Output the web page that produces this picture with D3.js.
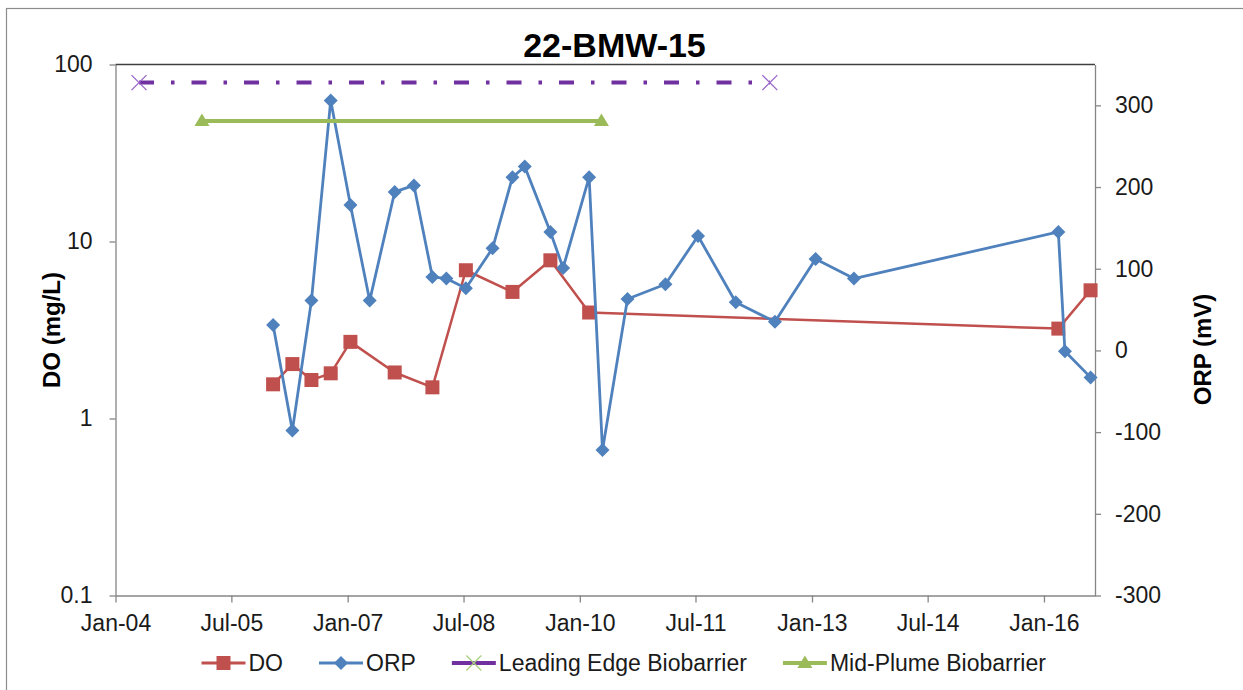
<!DOCTYPE html>
<html>
<head>
<meta charset="utf-8">
<script src="https://cdn.jsdelivr.net/npm/d3@7"></script>
<style>
  html, body { margin: 0; padding: 0; background: #fff; }
  svg { display: block; font-family: "Liberation Sans", Arial, sans-serif; }
</style>
</head>
<body>
<svg id="chart" width="1243" height="690"></svg>
<script>
// Monitoring well 22-BMW-15: dissolved oxygen (log, left axis) and ORP (right axis)
const sampleDates = [
  "2006-01-14", "2006-04-15", "2006-07-14", "2006-10-13", "2007-01-14", "2007-04-15",
  "2007-08-11", "2007-11-10", "2008-02-05", "2008-04-11", "2008-07-12", "2008-11-15",
  "2009-02-17", "2009-04-16", "2009-08-15", "2009-10-14", "2010-02-14", "2010-04-18",
  "2010-08-14", "2011-02-09", "2011-07-13", "2012-01-07", "2012-07-10", "2013-01-18",
  "2013-07-18", "2016-03-09", "2016-04-09", "2016-08-08"
];
const orpValues = [
  31, -98, 61, 306, 178, 61,
  194, 202, 90, 88, 76, 125,
  212, 225, 145, 101, 212, -122,
  63, 81, 140, 59, 35, 112,
  88, 145, -1, -33
];
const doValues = [
  1.56, 2.03, 1.65, 1.80, 2.71, null,
  1.82, null, 1.50, null, 6.88, null,
  5.19, null, 7.83, null, 3.97, null,
  null, null, null, null, null, null,
  null, 3.22, null, 5.30
];

// Operating periods of the two biobarriers
const leadingEdgeDates = ["2004-04-21", "2012-06-16"];
const leadingEdgeValues = [79, 79];
const midPlumeDates = ["2005-02-12", "2010-04-13"];
const midPlumeValues = [48, 48];

// Axes
const xDomain = ["2004-01-01", "2016-08-29"];
const xTickDates = ["2004-01-01", "2005-07-01", "2007-01-01", "2008-07-01", "2010-01-01",
                    "2011-07-01", "2013-01-01", "2014-07-01", "2016-01-01"];
const xTickLabels = ["Jan-04", "Jul-05", "Jan-07", "Jul-08", "Jan-10", "Jul-11", "Jan-13", "Jul-14", "Jan-16"];
const doDomain = [0.1, 100];
const doTicks = [0.1, 1, 10, 100];
const doTickLabels = ["0.1", "1", "10", "100"];
const orpDomain = [-300, 350];
const orpTicks = [-300, -200, -100, 0, 100, 200, 300];
const orpTickLabels = ["-300", "-200", "-100", "0", "100", "200", "300"];

const chartTitle = "22-BMW-15";
const leftTitle = "DO (mg/L)";
const rightTitle = "ORP (mV)";
const legendLabels = ["DO", "ORP", "Leading Edge Biobarrier", "Mid-Plume Biobarrier"];

const colors = {
  do: "#C0504D",
  orp: "#4F81BD",
  leading: "#7030A0",
  leadingMarker: "#9966CC",
  leadingLegendMarker: "#A9D17E",
  mid: "#9BBB59",
  axis: "#868686",
  text: "#1a1a1a"
};

const parse = d3.utcParse("%Y-%m-%d");
const plot = { left: 115.5, right: 1095, top: 64.5, bottom: 595.5 };

const svg = d3.select("#chart");

// chart area border
svg.append("rect")
  .attr("x", 6.5).attr("y", 8.5).attr("width", 1300).attr("height", 800)
  .attr("fill", "#fff").attr("stroke", "#8c8c8c").attr("stroke-width", 1.2);

const x = d3.scaleUtc().domain(xDomain.map(parse)).range([plot.left, plot.right]);
const yDO = d3.scaleLog().domain(doDomain).range([plot.bottom, plot.top]);
const yORP = d3.scaleLinear().domain(orpDomain).range([plot.bottom, plot.top]);

// plot area top edge
svg.append("line")
  .attr("x1", plot.left).attr("x2", plot.right)
  .attr("y1", plot.top).attr("y2", plot.top)
  .attr("stroke", "#404040").attr("stroke-width", 1.3);

function styleAxis(g) {
  g.select(".domain").attr("stroke", colors.axis).attr("stroke-width", 1.3);
  g.selectAll(".tick line").attr("stroke", colors.axis).attr("stroke-width", 1.3);
  g.selectAll(".tick text").attr("fill", colors.text).attr("font-size", 23)
    .attr("font-family", "'Liberation Sans', Arial, sans-serif");
}

svg.append("g")
  .attr("transform", `translate(${plot.left},0)`)
  .call(d3.axisLeft(yDO).tickValues(doTicks).tickFormat((d, i) => doTickLabels[i])
    .tickSize(6).tickSizeOuter(0).tickPadding(17))
  .call(styleAxis);

svg.append("g")
  .attr("transform", `translate(${plot.right},0)`)
  .call(d3.axisRight(yORP).tickValues(orpTicks).tickFormat((d, i) => orpTickLabels[i])
    .tickSize(6).tickSizeOuter(0).tickPadding(14))
  .call(styleAxis);

svg.append("g")
  .attr("transform", `translate(0,${plot.bottom})`)
  .call(d3.axisBottom(x).tickValues(xTickDates.map(parse)).tickFormat((d, i) => xTickLabels[i])
    .tickSize(7).tickSizeOuter(0).tickPadding(12))
  .call(styleAxis);

// titles
svg.append("text")
  .attr("x", 614.5).attr("y", 57)
  .attr("text-anchor", "middle")
  .attr("font-size", 34).attr("font-weight", "bold").attr("fill", "#000")
  .text(chartTitle);

svg.append("text")
  .attr("transform", `translate(60,${(plot.top + plot.bottom) / 2}) rotate(-90)`)
  .attr("text-anchor", "middle")
  .attr("font-size", 24).attr("font-weight", "bold").attr("fill", "#000")
  .text(leftTitle);

svg.append("text")
  .attr("transform", `translate(1211,349.5) rotate(-90)`)
  .attr("text-anchor", "middle")
  .attr("font-size", 24).attr("font-weight", "bold").attr("fill", "#000")
  .text(rightTitle);

// marker shapes
function square(g, cx, cy) {
  g.append("rect").attr("x", cx - 7).attr("y", cy - 7).attr("width", 14).attr("height", 14)
    .attr("fill", colors.do);
}
function diamond(g, cx, cy) {
  const r = 7;
  g.append("path").attr("d", `M${cx},${cy - r}L${cx + r},${cy}L${cx},${cy + r}L${cx - r},${cy}Z`)
    .attr("fill", colors.orp);
}
function cross(g, cx, cy, color) {
  const r = 7.5;
  g.append("path").attr("d", `M${cx - r},${cy - r}L${cx + r},${cy + r}M${cx - r},${cy + r}L${cx + r},${cy - r}`)
    .attr("stroke", color).attr("stroke-width", 1.3).attr("fill", "none");
}
function triangle(g, cx, cy) {
  g.append("path").attr("d", `M${cx},${cy - 7.5}L${cx + 7.5},${cy + 5}L${cx - 7.5},${cy + 5}Z`)
    .attr("fill", colors.mid);
}

const dates = sampleDates.map(parse);

// DO series
const doPts = dates.map((d, i) => ({ date: d, v: doValues[i] })).filter(p => p.v != null);
const doLine = d3.line().x(p => x(p.date)).y(p => yDO(p.v));
const gDO = svg.append("g");
gDO.append("path").attr("d", doLine(doPts))
  .attr("fill", "none").attr("stroke", colors.do).attr("stroke-width", 2.5).attr("stroke-linejoin", "round");
doPts.forEach(p => square(gDO, x(p.date), yDO(p.v)));

// ORP series
const orpPts = dates.map((d, i) => ({ date: d, v: orpValues[i] }));
const orpLine = d3.line().x(p => x(p.date)).y(p => yORP(p.v));
const gORP = svg.append("g");
gORP.append("path").attr("d", orpLine(orpPts))
  .attr("fill", "none").attr("stroke", colors.orp).attr("stroke-width", 2.8).attr("stroke-linejoin", "round");
orpPts.forEach(p => diamond(gORP, x(p.date), yORP(p.v)));

// Leading edge biobarrier
const lePts = leadingEdgeDates.map((d, i) => ({ date: parse(d), v: leadingEdgeValues[i] }));
const gLE = svg.append("g");
gLE.append("path").attr("d", doLine(lePts))
  .attr("fill", "none").attr("stroke", colors.leading).attr("stroke-width", 4)
  .attr("stroke-dasharray", "15 17 3.5 17").attr("stroke-dashoffset", 0);
lePts.forEach(p => cross(gLE, x(p.date), yDO(p.v), colors.leadingMarker));

// Mid-plume biobarrier
const mpPts = midPlumeDates.map((d, i) => ({ date: parse(d), v: midPlumeValues[i] }));
const gMP = svg.append("g");
gMP.append("path").attr("d", doLine(mpPts))
  .attr("fill", "none").attr("stroke", colors.mid).attr("stroke-width", 4);
mpPts.forEach(p => triangle(gMP, x(p.date), yDO(p.v)));

// legend
const legend = svg.append("g");
const legendY = 663;
let cursor = 201.5;
legendLabels.forEach((label, i) => {
  const g = legend.append("g");
  const x0 = cursor, x1 = cursor + 44, cx = cursor + 22;
  const stroke = [colors.do, colors.orp, colors.leading, colors.mid][i];
  g.append("line").attr("x1", x0).attr("x2", x1).attr("y1", legendY).attr("y2", legendY)
    .attr("stroke", stroke).attr("stroke-width", i >= 2 ? 4 : 2.8);
  if (i === 0) square(g, cx, legendY);
  if (i === 1) diamond(g, cx, legendY);
  if (i === 2) cross(g, cx, legendY, colors.leadingLegendMarker);
  if (i === 3) triangle(g, cx, legendY);
  const t = g.append("text").attr("x", x1 + 3).attr("y", 670.5)
    .attr("font-size", 23).attr("fill", colors.text).text(label);
  cursor = x1 + 3 + t.node().getComputedTextLength() + 36;
});
</script>
</body>
</html>
